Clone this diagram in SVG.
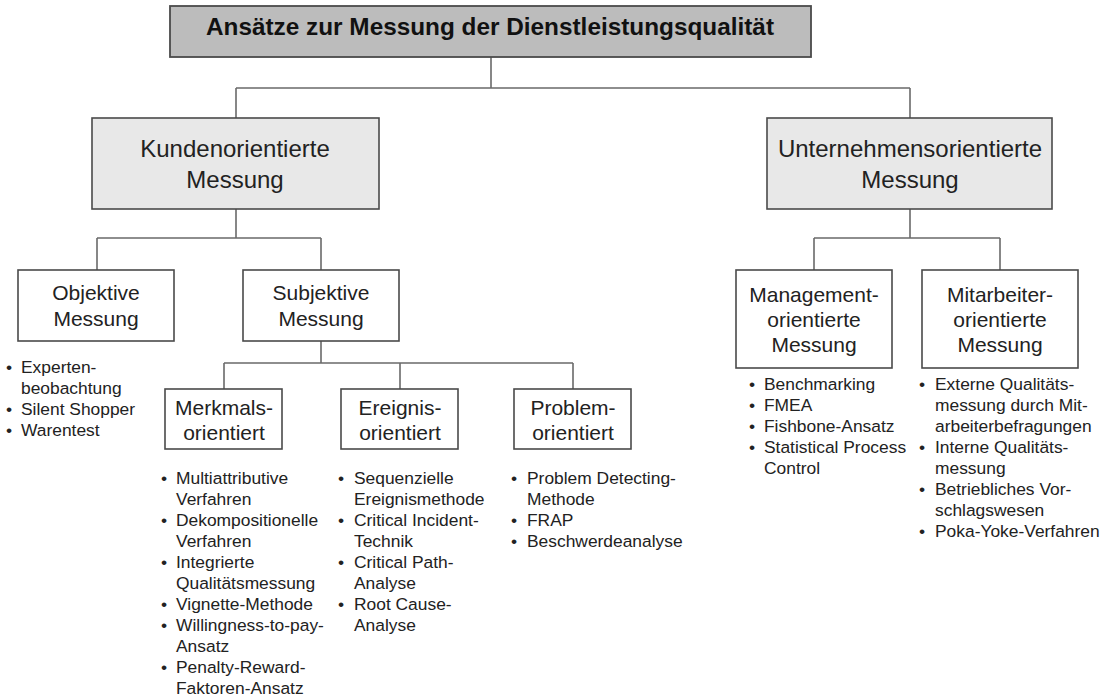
<svg xmlns="http://www.w3.org/2000/svg" width="1104" height="697" viewBox="0 0 1104 697">
<defs>
<style>
.bg{fill:#ffffff}
.box{fill:#ffffff;stroke:#4a4a4a;stroke-width:1.6}
.title{fill:#bcbcbc;stroke:#4a4a4a;stroke-width:1.8}
.main{fill:#e8e8e8;stroke:#4a4a4a;stroke-width:1.6}
.conn{fill:none;stroke:#6a6a6a;stroke-width:1.6}
text{font-family:"Liberation Sans",Arial,sans-serif;fill:#222222}
.tt{font-size:24px;font-weight:bold;text-anchor:middle;fill:#111111}
.t1{font-size:24px;text-anchor:middle}
.t2{font-size:21px;text-anchor:middle}
.li{font-size:17.4px}
</style>
</defs>
<rect class="bg" x="0" y="0" width="1104" height="697"/>
<g id="connectors">
<path class="conn" d="M491,57 V88 M236,88 H910 M236,88 V118 M910,88 V118"/>
<path class="conn" d="M236,209 V238 M97,238 H321 M97,238 V270 M321,238 V270"/>
<path class="conn" d="M910,209 V238 M814,238 H1000 M814,238 V270 M1000,238 V270"/>
<path class="conn" d="M321,341 V363 M224,363 H573 M224,363 V389 M400,363 V389 M573,363 V389"/>
</g>
<g id="n-title">
<rect class="title" x="170" y="6" width="641" height="51"/>
<text class="tt" x="490" y="35" textLength="568" lengthAdjust="spacingAndGlyphs">Ansätze zur Messung der Dienstleistungsqualität</text>
</g>
<g id="n-kunden">
<rect class="main" x="92" y="118" width="287" height="91"/>
<text class="t1" x="235" y="157">Kundenorientierte</text>
<text class="t1" x="235" y="188">Messung</text>
</g>
<g id="n-unternehmen">
<rect class="main" x="767" y="118" width="285" height="91"/>
<text class="t1" x="910" y="157">Unternehmensorientierte</text>
<text class="t1" x="910" y="188">Messung</text>
</g>
<g id="n-objektiv">
<rect class="box" x="18" y="270" width="156" height="71"/>
<text class="t2" x="96" y="300">Objektive</text>
<text class="t2" x="96" y="326">Messung</text>
</g>
<g id="n-subjektiv">
<rect class="box" x="243" y="270" width="156" height="71"/>
<text class="t2" x="321" y="300">Subjektive</text>
<text class="t2" x="321" y="326">Messung</text>
</g>
<g id="n-management">
<rect class="box" x="736" y="270" width="156" height="98"/>
<text class="t2" x="814" y="302">Management-</text>
<text class="t2" x="814" y="327">orientierte</text>
<text class="t2" x="814" y="352">Messung</text>
</g>
<g id="n-mitarbeiter">
<rect class="box" x="922" y="270" width="156" height="98"/>
<text class="t2" x="1000" y="302">Mitarbeiter-</text>
<text class="t2" x="1000" y="327">orientierte</text>
<text class="t2" x="1000" y="352">Messung</text>
</g>
<g id="n-merkmal">
<rect class="box" x="165" y="389" width="117" height="60"/>
<text class="t2" x="224" y="415">Merkmals-</text>
<text class="t2" x="224" y="440">orientiert</text>
</g>
<g id="n-ereignis">
<rect class="box" x="341" y="389" width="117" height="60"/>
<text class="t2" x="400" y="415">Ereignis-</text>
<text class="t2" x="400" y="440">orientiert</text>
</g>
<g id="n-problem">
<rect class="box" x="514" y="389" width="117" height="60"/>
<text class="t2" x="573" y="415">Problem-</text>
<text class="t2" x="573" y="440">orientiert</text>
</g>
<g id="list-objektiv">
<text class="li" x="6" y="373">•</text>
<text class="li" x="6" y="415">•</text>
<text class="li" x="6" y="436">•</text>
<text class="li" x="21" y="373">Experten-</text>
<text class="li" x="21" y="394">beobachtung</text>
<text class="li" x="21" y="415">Silent Shopper</text>
<text class="li" x="21" y="436">Warentest</text>
</g>
<g id="list-merkmal">
<text class="li" x="161" y="484">•</text>
<text class="li" x="161" y="526">•</text>
<text class="li" x="161" y="568">•</text>
<text class="li" x="161" y="610">•</text>
<text class="li" x="161" y="631">•</text>
<text class="li" x="161" y="673">•</text>
<text class="li" x="176" y="484">Multiattributive</text>
<text class="li" x="176" y="505">Verfahren</text>
<text class="li" x="176" y="526">Dekompositionelle</text>
<text class="li" x="176" y="547">Verfahren</text>
<text class="li" x="176" y="568">Integrierte</text>
<text class="li" x="176" y="589">Qualitätsmessung</text>
<text class="li" x="176" y="610">Vignette-Methode</text>
<text class="li" x="176" y="631">Willingness-to-pay-</text>
<text class="li" x="176" y="652">Ansatz</text>
<text class="li" x="176" y="673">Penalty-Reward-</text>
<text class="li" x="176" y="694">Faktoren-Ansatz</text>
</g>
<g id="list-ereignis">
<text class="li" x="338" y="484">•</text>
<text class="li" x="338" y="526">•</text>
<text class="li" x="338" y="568">•</text>
<text class="li" x="338" y="610">•</text>
<text class="li" x="354" y="484">Sequenzielle</text>
<text class="li" x="354" y="505">Ereignismethode</text>
<text class="li" x="354" y="526">Critical Incident-</text>
<text class="li" x="354" y="547">Technik</text>
<text class="li" x="354" y="568">Critical Path-</text>
<text class="li" x="354" y="589">Analyse</text>
<text class="li" x="354" y="610">Root Cause-</text>
<text class="li" x="354" y="631">Analyse</text>
</g>
<g id="list-problem">
<text class="li" x="511" y="484">•</text>
<text class="li" x="511" y="526">•</text>
<text class="li" x="511" y="547">•</text>
<text class="li" x="527" y="484">Problem Detecting-</text>
<text class="li" x="527" y="505">Methode</text>
<text class="li" x="527" y="526">FRAP</text>
<text class="li" x="527" y="547">Beschwerdeanalyse</text>
</g>
<g id="list-management">
<text class="li" x="749" y="390">•</text>
<text class="li" x="749" y="411">•</text>
<text class="li" x="749" y="432">•</text>
<text class="li" x="749" y="453">•</text>
<text class="li" x="764" y="390">Benchmarking</text>
<text class="li" x="764" y="411">FMEA</text>
<text class="li" x="764" y="432">Fishbone-Ansatz</text>
<text class="li" x="764" y="453">Statistical Process</text>
<text class="li" x="764" y="474">Control</text>
</g>
<g id="list-mitarbeiter">
<text class="li" x="919" y="390">•</text>
<text class="li" x="919" y="453">•</text>
<text class="li" x="919" y="495">•</text>
<text class="li" x="919" y="537">•</text>
<text class="li" x="935" y="390">Externe Qualitäts-</text>
<text class="li" x="935" y="411">messung durch Mit-</text>
<text class="li" x="935" y="432">arbeiterbefragungen</text>
<text class="li" x="935" y="453">Interne Qualitäts-</text>
<text class="li" x="935" y="474">messung</text>
<text class="li" x="935" y="495">Betriebliches Vor-</text>
<text class="li" x="935" y="516">schlagswesen</text>
<text class="li" x="935" y="537">Poka-Yoke-Verfahren</text>
</g>
</svg>
